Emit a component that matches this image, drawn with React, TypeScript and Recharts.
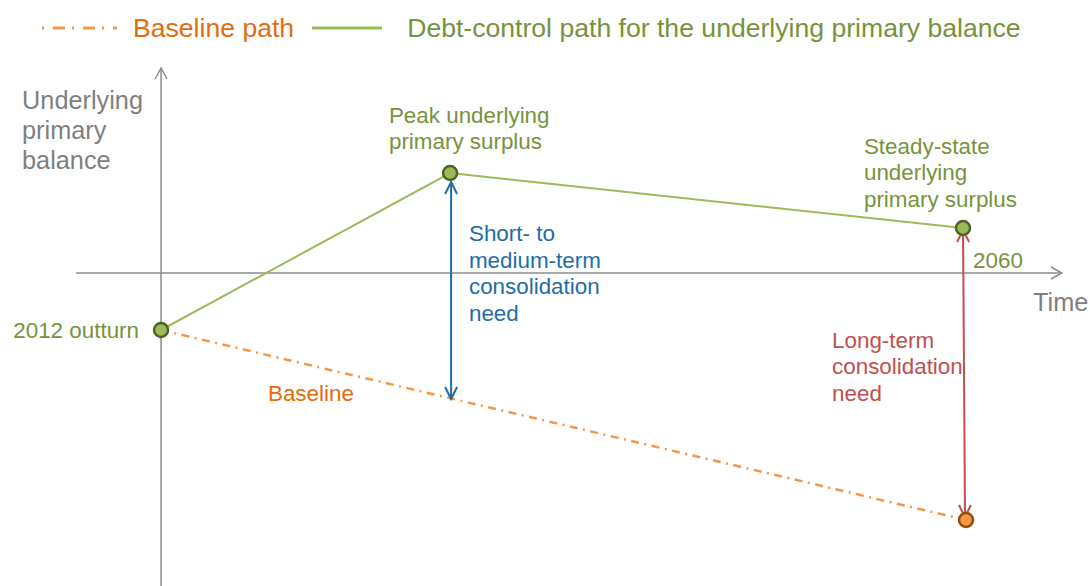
import React from "react";
import { LineChart, Line, XAxis, YAxis, ReferenceLine, ReferenceDot, Legend } from "recharts";

const FONT = "'Liberation Sans', Arial, Helvetica, sans-serif";
const GREEN_LINE = "#9BBB59";
const GREEN_DARK = "#4F6228";
const GREEN_TEXT = "#77933C";
const ORANGE_LINE = "#F79646";
const ORANGE_DARK = "#984807";
const ORANGE_TEXT = "#E46C0A";
const BLUE = "#1F6DA8";
const RED = "#C0504D";
const GREY = "#7F7F7F";
const AXIS = "#8C8C8C";

const W = 1090;
const H = 586;
const LEGEND_H = 56;

// conceptual chart: t = year, v = underlying primary balance (arbitrary units)
const X_DOMAIN = [2002.36, 2067.6];
const Y_DOMAIN = [-6.26, 4.34];

const debtControlPath = [
  { t: 2012, v: -1.14 },
  { t: 2029.3, v: 2.0 },
  { t: 2060, v: 0.9 },
];
const baselinePath = [
  { t: 2012, v: -1.14 },
  { t: 2060.18, v: -4.94 },
];

const axisY = [{ t: 2012, v: -6.26 }, { t: 2012, v: 4.1 }];
const axisX = [{ t: 2006.91, v: 0 }, { t: 2065.92, v: 0 }];
const shortNeed = [{ t: 2029.36, v: 1.82 }, { t: 2029.36, v: -2.52 }];
const longNeed = [{ t: 2060, v: 0.86 }, { t: 2060.12, v: -4.88 }];

const yAxisTitle = ["Underlying", "primary", "balance"];
const xAxisTitle = ["Time"];
const startLabel = ["2012 outturn"];
const peakLabel = ["Peak underlying", "primary surplus"];
const steadyLabel = ["Steady-state", "underlying", "primary surplus"];
const endYearLabel = ["2060"];
const shortNeedLabel = ["Short- to", "medium-term", "consolidation", "need"];
const longNeedLabel = ["Long-term", "consolidation", "need"];
const baselineLabel = ["Baseline"];

const legendText: Record<string, string> = {
  "Baseline path": ORANGE_TEXT,
  "Debt-control path for the underlying primary balance": GREEN_TEXT,
};
const legendSwatch = [75, 70];
const legendGap = [16, 25];

/* text block anchored at a data point */
const note = (lines: string[], color: string, size: number, lh: number, anchor = "start") => (p: any) => (
  <text fill={color} fontSize={size} fontFamily={FONT} textAnchor={anchor}>
    {lines.map((l, i) => (
      <tspan key={i} x={p.cx} y={p.cy + i * lh} dy="0.35em">{l}</tspan>
    ))}
  </text>
);

/* line with open chevron heads */
const arrow = (color: string, width: number, both: boolean, len = 12, half = 6) => (p: any) => {
  const { x1, y1, x2, y2 } = p;
  const dx = x2 - x1, dy = y2 - y1;
  const d = Math.sqrt(dx * dx + dy * dy) || 1;
  const ux = dx / d, uy = dy / d;
  const head = (tx: number, ty: number, sx: number, sy: number) =>
    `M${tx - sx * len - sy * half},${ty - sy * len + sx * half}L${tx},${ty}L${tx - sx * len + sy * half},${ty - sy * len - sx * half}`;
  return (
    <g>
      <line x1={x1} y1={y1} x2={x2} y2={y2} stroke={color} strokeWidth={width} />
      <path d={head(x2, y2, ux, uy)} fill="none" stroke={color} strokeWidth={width} />
      {both && <path d={head(x1, y1, -ux, -uy)} fill="none" stroke={color} strokeWidth={width} />}
    </g>
  );
};

const dotAt = (fill: string, stroke: string, which: "all" | "last") => (p: any) => {
  const show = which === "all" || p.index === 1;
  if (!show) return <g key={`d${p.index}`} />;
  return <circle key={`d${p.index}`} cx={p.cx} cy={p.cy} r={7} fill={fill} stroke={stroke} strokeWidth={2.5} />;
};

function LegendRow({ payload }: any) {
  return (
    <div style={{ display: "flex", alignItems: "center", height: LEGEND_H, paddingLeft: 42, fontFamily: FONT, fontSize: 26.6 }}>
      {(payload || []).map((e: any, i: number) => (
        <div key={i} style={{ display: "flex", alignItems: "center", marginRight: 18 }}>
          <svg width={legendSwatch[i]} height={10}>
            <line x1={0} y1={5} x2={legendSwatch[i]} y2={5} stroke={e.color} strokeWidth={3}
              strokeDasharray={e.payload?.strokeDasharray ? "2 9 12 7" : undefined} />
          </svg>
          <span style={{ marginLeft: legendGap[i], color: legendText[e.value] }}>{e.value}</span>
        </div>
      ))}
    </div>
  );
}

export default function App() {
  return (
    <div style={{ position: "absolute", left: 0, top: 0, width: W, height: H, background: "#fff" }}>
      <LineChart width={W} height={H} margin={{ top: 0, right: 0, bottom: 0, left: 0 }}>
        <XAxis type="number" dataKey="t" domain={X_DOMAIN} hide allowDataOverflow />
        <YAxis type="number" dataKey="v" domain={Y_DOMAIN} hide allowDataOverflow />
        <Legend verticalAlign="top" align="left" content={<LegendRow />}
          wrapperStyle={{ top: 0, left: 0, width: W, height: LEGEND_H }} />

        {/* axes */}
        <ReferenceLine segment={[{ x: axisY[0].t, y: axisY[0].v }, { x: axisY[1].t, y: axisY[1].v }]}
          ifOverflow="visible" shape={arrow(AXIS, 1.5, false, 11, 6)} />
        <ReferenceLine segment={[{ x: axisX[0].t, y: axisX[0].v }, { x: axisX[1].t, y: axisX[1].v }]}
          ifOverflow="visible" shape={arrow(AXIS, 1.5, false, 11, 6)} />

        <Line data={baselinePath} dataKey="v" name="Baseline path" type="linear" stroke={ORANGE_LINE}
          strokeWidth={2.5} strokeDasharray="8 5.5 2 5.5" dot={dotAt(ORANGE_LINE, ORANGE_DARK, "last")}
          activeDot={false} isAnimationActive={false} />
        <Line data={debtControlPath} dataKey="v" name="Debt-control path for the underlying primary balance"
          type="linear" stroke={GREEN_LINE} strokeWidth={2} dot={dotAt(GREEN_LINE, GREEN_DARK, "all")}
          activeDot={false} isAnimationActive={false} />

        {/* consolidation needs */}
        <ReferenceLine segment={[{ x: shortNeed[0].t, y: shortNeed[0].v }, { x: shortNeed[1].t, y: shortNeed[1].v }]}
          ifOverflow="visible" shape={arrow(BLUE, 2, true)} />
        <ReferenceLine segment={[{ x: longNeed[0].t, y: longNeed[0].v }, { x: longNeed[1].t, y: longNeed[1].v }]}
          ifOverflow="visible" shape={arrow(RED, 2, true)} />

        {/* annotations */}
        <ReferenceDot x={2003.68} y={3.46} r={0} ifOverflow="visible" shape={note(yAxisTitle, GREY, 25.3, 30)} />
        <ReferenceDot x={2064.19} y={-0.58} r={0} ifOverflow="visible" shape={note(xAxisTitle, GREY, 25.3, 30)} />
        <ReferenceDot x={2010.68} y={-1.14} r={0} ifOverflow="visible" shape={note(startLabel, GREEN_TEXT, 22.4, 26, "end")} />
        <ReferenceDot x={2025.64} y={3.16} r={0} ifOverflow="visible" shape={note(peakLabel, GREEN_TEXT, 22.4, 26)} />
        <ReferenceDot x={2054.07} y={2.54} r={0} ifOverflow="visible" shape={note(steadyLabel, GREEN_TEXT, 22.4, 26.5)} />
        <ReferenceDot x={2060.6} y={0.26} r={0} ifOverflow="visible" shape={note(endYearLabel, GREEN_TEXT, 22.4, 26)} />
        <ReferenceDot x={2030.43} y={0.8} r={0} ifOverflow="visible" shape={note(shortNeedLabel, BLUE, 22.4, 26.7)} />
        <ReferenceDot x={2052.16} y={-1.34} r={0} ifOverflow="visible" shape={note(longNeedLabel, RED, 22.4, 26.5)} />
        <ReferenceDot x={2018.4} y={-2.4} r={0} ifOverflow="visible" shape={note(baselineLabel, ORANGE_TEXT, 22.4, 26)} />
      </LineChart>
    </div>
  );
}
